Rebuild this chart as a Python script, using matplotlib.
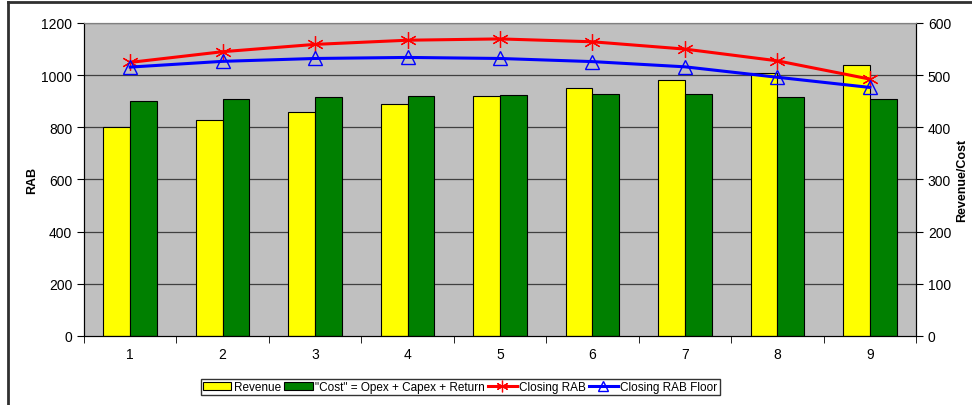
import matplotlib.pyplot as plt
import numpy as np
from matplotlib.lines import Line2D

plt.rcParams['font.family'] = ['Liberation Sans', 'DejaVu Sans']

years = [1, 2, 3, 4, 5, 6, 7, 8, 9]
revenue = [400, 415, 430, 445, 460, 475, 490, 505, 520]
cost = [450, 455, 458, 460, 462, 463, 463, 459, 455]
closing_rab = [1049, 1090, 1118, 1134, 1139, 1128, 1100, 1055, 985]
rab_floor = [1031, 1053, 1064, 1068, 1064, 1052, 1032, 992, 953]

fig = plt.figure(figsize=(9.72, 4.06), dpi=100)
ax = fig.add_axes([84/972, 1-337/406, 832/972, 313/406])
ax2 = ax.twinx()
# lines in front of bars
ax.set_zorder(2)
ax.patch.set_visible(False)
ax2.set_facecolor('#C0C0C0')
ax2.patch.set_visible(True)
ax2.set_zorder(1)

x = np.arange(len(years))
w = 0.29
ax2.bar(x - w/2, revenue, w, color='#FFFF00', edgecolor='black', linewidth=0.8,
        label='Revenue')
ax2.bar(x + w/2, cost, w, color='#008000', edgecolor='black', linewidth=0.8,
        label='"Cost" = Opex + Capex + Return')
ax2.set_ylim(0, 600)
ax2.set_yticks(range(0, 601, 100))

# gridlines from left axis, drawn on the background axes
for v in range(200, 1201, 200):
    ax2.axhline(v / 2, color='#404040', linewidth=0.9, zorder=0)

ax.plot(x, closing_rab, color='#FF0000', linewidth=2.2, marker=(6, 2, 0),
        markersize=12, markeredgecolor='#FF0000', markeredgewidth=0.9,
        label='Closing RAB')
ax.plot(x, rab_floor, color='#0000FF', linewidth=2.2, marker='^',
        markersize=10, markerfacecolor='none', markeredgecolor='#0000FF',
        markeredgewidth=1, label='Closing RAB Floor')
ax.set_ylim(0, 1200)
ax.set_yticks(range(0, 1201, 200))
ax.set_xlim(-0.5, len(years) - 0.5)
ax.set_xticks(x)
ax.set_xticklabels([str(y) for y in years])
ax.set_xticks(np.arange(-0.5, len(years), 1), minor=True)
ax.tick_params(axis='x', which='major', length=0, pad=8, labelsize=10)
ax.tick_params(axis='x', which='minor', length=5, direction='out')
ax.tick_params(axis='y', length=5, direction='out', labelsize=10)
ax2.tick_params(axis='y', length=5, direction='out', labelsize=10)

for a in (ax, ax2):
    a.spines['top'].set_color('#808080')
    a.spines['left'].set_color('black')
    a.spines['right'].set_color('black')
    a.spines['bottom'].set_color('black')

ax.set_ylabel('RAB', fontsize=9, fontweight='bold')
ax.yaxis.set_label_coords(-46/832, 0.5)
ax2.set_ylabel('Revenue/Cost', fontsize=9, fontweight='bold')
ax2.yaxis.set_label_coords((956-84)/832, 0.5)

h2, l2 = ax2.get_legend_handles_labels()
h1, l1 = ax.get_legend_handles_labels()
fig.legend(h2 + h1, l2 + l1, loc='center', bbox_to_anchor=(460/972, 1-388/406),
           ncol=4, fontsize=8.5, frameon=True, fancybox=False, edgecolor='black',
           handlelength=2.4, handletextpad=0.2, columnspacing=0.3,
           borderpad=0.2, borderaxespad=0, markerscale=0.7)

# chart area border
fig.add_artist(Line2D([8/972, 1], [1-3/406, 1-3/406], color='#303030', linewidth=2,
                      transform=fig.transFigure))
fig.add_artist(Line2D([8/972, 8/972], [0, 1-3/406], color='#303030', linewidth=2,
                      transform=fig.transFigure))

fig.savefig('out.png', dpi=100)
